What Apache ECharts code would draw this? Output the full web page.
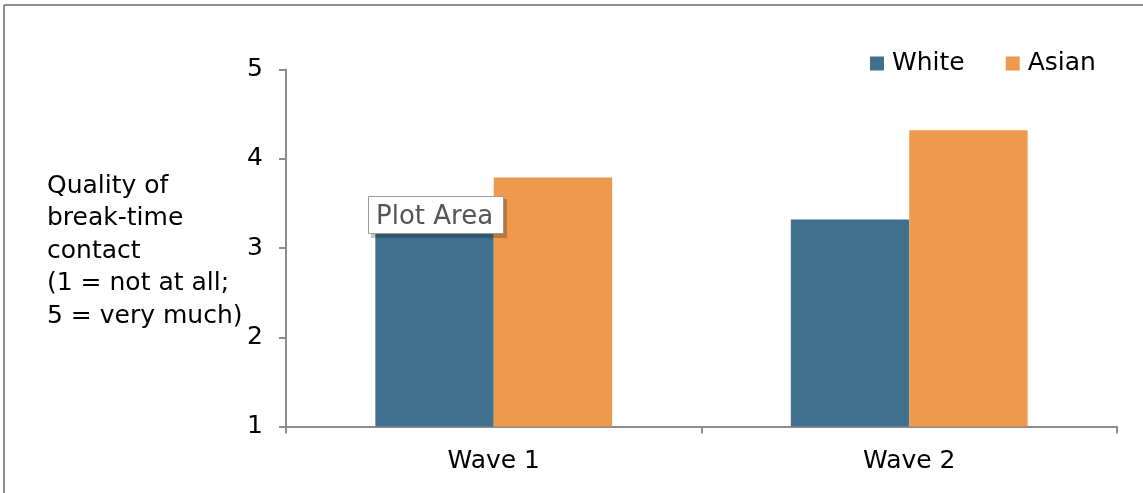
<!DOCTYPE html>
<html>
<head>
<meta charset="utf-8">
<script src="https://cdn.jsdelivr.net/npm/echarts@6/dist/echarts.min.js"></script>
<style>html,body{margin:0;padding:0;background:#fff}#c{width:1143px;height:493px}</style>
</head>
<body>
<div id="c"></div>
<script>
const categories = ['Wave 1', 'Wave 2'];
const whiteValues = [3.25, 3.32];
const asianValues = [3.79, 4.32];
const seriesNames = ['White', 'Asian'];
const yTitleLines = ['Quality of', 'break-time', 'contact', '(1 = not at all;', '5 = very much)'];

const FONT = 'DejaVu Sans';
const chart = echarts.init(document.getElementById('c'), null, {renderer: 'canvas'});
chart.setOption({
  animation: false,
  textStyle: {fontFamily: FONT},
  grid: {left: 286, right: 26, top: 69.5, bottom: 66.5},
  legend: {
    data: seriesNames,
    left: 865, top: 46,
    itemWidth: 14, itemHeight: 14, itemGap: 41,
    icon: 'rect',
    textStyle: {fontFamily: FONT, fontSize: 25, color: '#000', padding: [0, 0, 0, 3]}
  },
  xAxis: {
    type: 'category',
    data: categories,
    axisLine: {lineStyle: {color: '#8c8c8c', width: 2}},
    axisTick: {show: true, alignWithLabel: false, length: 7, lineStyle: {color: '#8c8c8c', width: 2}},
    axisLabel: {fontFamily: FONT, fontSize: 25, color: '#000', margin: 22}
  },
  yAxis: {
    type: 'value', min: 1, max: 5, interval: 1,
    axisLine: {show: true, lineStyle: {color: '#8c8c8c', width: 2}},
    axisTick: {show: true, length: 7, lineStyle: {color: '#8c8c8c', width: 2}},
    splitLine: {show: false},
    axisLabel: {fontFamily: FONT, fontSize: 25, color: '#000', margin: 23}
  },
  series: [
    {name: seriesNames[0], type: 'bar', data: whiteValues, barGap: '0%', barCategoryGap: '43%', itemStyle: {color: '#41708F'}},
    {name: seriesNames[1], type: 'bar', data: asianValues, barGap: '0%', barCategoryGap: '43%', itemStyle: {color: '#EE994B'}}
  ],
  graphic: [
    {type: 'line', shape: {x1: 4, y1: 5, x2: 1143, y2: 5}, style: {stroke: '#8c8c8c', lineWidth: 2}},
    {type: 'line', shape: {x1: 4, y1: 5, x2: 4, y2: 493}, style: {stroke: '#8c8c8c', lineWidth: 2}},
    {type: 'text', left: 47, top: 170, style: {text: yTitleLines.join('\n'), font: '25px "' + FONT + '"', fill: '#000', lineHeight: 32.5}},
    {type: 'rect', shape: {x: 371, y: 199, width: 136, height: 39}, style: {fill: 'rgba(0,0,0,0.22)'}, z: 100},
    {type: 'rect', shape: {x: 368.5, y: 196.5, width: 135, height: 37}, style: {fill: '#fff', stroke: '#9a9a9a', lineWidth: 1}, z: 101},
    {type: 'text', left: 376, top: 204, style: {text: 'Plot Area', font: '26px "' + FONT + '"', fill: '#555'}, z: 102}
  ]
});
</script>
</body>
</html>
